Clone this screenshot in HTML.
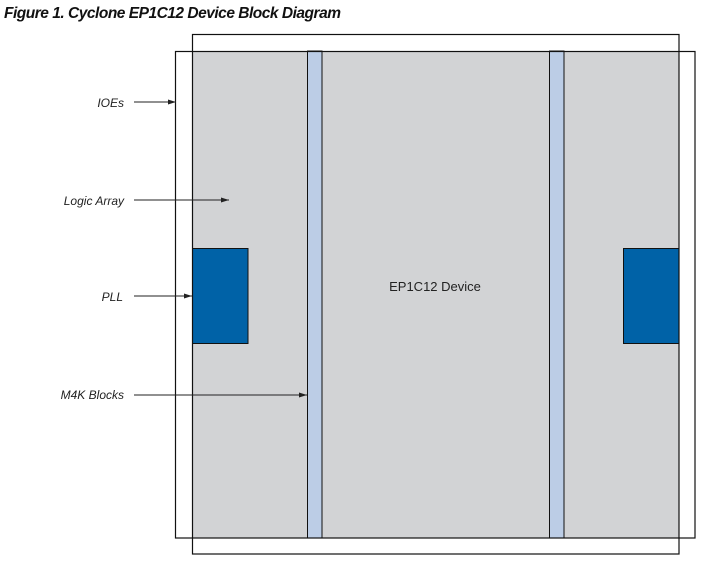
<!DOCTYPE html>
<html><head><meta charset="utf-8"><style>
html,body{margin:0;padding:0;background:#fff;}
svg{display:block;}
</style></head><body>
<svg width="702" height="561" viewBox="0 0 702 561" xmlns="http://www.w3.org/2000/svg">
<defs><marker id="a" markerWidth="8" markerHeight="6" refX="8" refY="3" orient="auto" markerUnits="userSpaceOnUse"><path d="M0,0.5 L8,3 L0,5.5 Z" fill="#222"/></marker></defs>
<text x="4" y="18" font-family="Liberation Sans, sans-serif" font-size="15.5" font-weight="bold" font-style="italic" fill="#111" textLength="337">Figure 1. Cyclone EP1C12 Device Block Diagram</text>
<rect x="192" y="51" width="487" height="487" fill="#d2d3d5"/>
<rect x="307.5" y="51" width="14.5" height="487" fill="#bccde6" stroke="#111" stroke-width="1"/>
<rect x="549.5" y="51" width="14.5" height="487" fill="#bccde6" stroke="#111" stroke-width="1"/>
<rect x="192.5" y="248.5" width="55.5" height="95" fill="#0062a7" stroke="#111" stroke-width="1"/>
<rect x="623.5" y="248.5" width="55.5" height="95" fill="#0062a7" stroke="#111" stroke-width="1"/>
<rect x="192.5" y="34.5" width="486.5" height="519.5" fill="none" stroke="#111" stroke-width="1.2"/>
<rect x="175.5" y="51.5" width="519.5" height="486.5" fill="none" stroke="#111" stroke-width="1.2"/>
<text x="435" y="291" text-anchor="middle" font-family="Liberation Sans, sans-serif" font-size="13" fill="#222">EP1C12 Device</text>
<g font-family="Liberation Sans, sans-serif" font-size="12" font-style="italic" fill="#222" text-anchor="end">
<text x="124" y="107">IOEs</text>
<text x="124" y="205">Logic Array</text>
<text x="123" y="301">PLL</text>
<text x="124" y="399">M4K Blocks</text>
</g>
<g stroke="#222" stroke-width="1" marker-end="url(#a)">
<line x1="134" y1="102" x2="176" y2="102"/>
<line x1="134" y1="200" x2="229" y2="200"/>
<line x1="134" y1="296" x2="192" y2="296"/>
<line x1="134" y1="395" x2="307" y2="395"/>
</g>
</svg>
</body></html>
